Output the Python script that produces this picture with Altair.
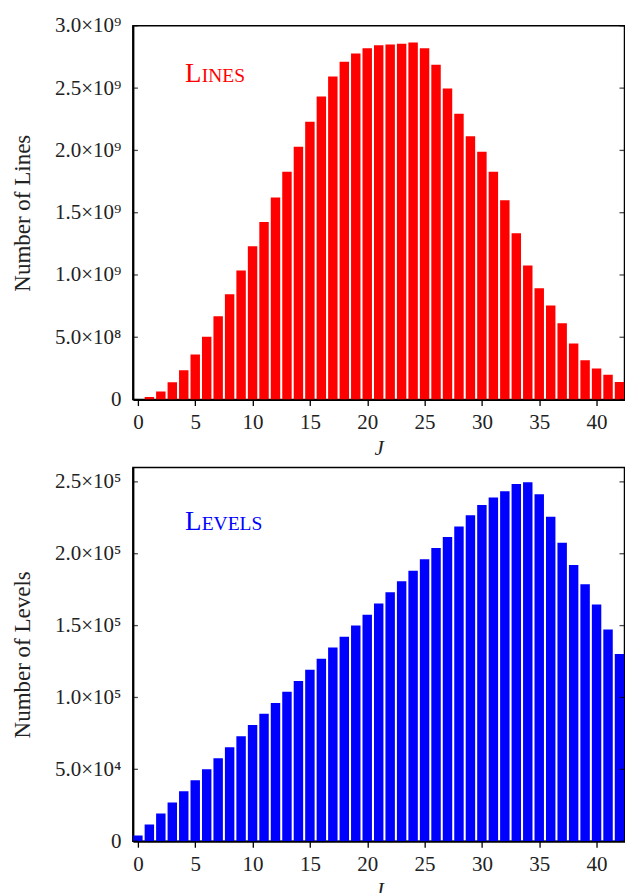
import altair as alt
import pandas as pd

J = list(range(43))
lines = [0, 2.0e7, 6.4e7, 1.39e8, 2.35e8, 3.61e8, 5.05e8, 6.68e8, 8.45e8, 1.035e9,
         1.23e9, 1.425e9, 1.622e9, 1.829e9, 2.029e9, 2.23e9, 2.433e9, 2.593e9, 2.711e9, 2.778e9,
         2.82e9, 2.845e9, 2.85e9, 2.856e9, 2.866e9, 2.82e9, 2.687e9, 2.497e9, 2.294e9, 2.114e9,
         1.989e9, 1.829e9, 1.599e9, 1.334e9, 1.077e9, 8.93e8, 7.54e8, 6.12e8, 4.49e8, 3.15e8,
         2.49e8, 2.0e8, 1.41e8]
levels = [3960, 11600, 19300, 26900, 34800, 42400, 50000, 57700, 65400, 73000,
          80900, 88600, 96200, 103900, 111500, 119200, 127000, 134700, 142300, 150000,
          157600, 165300, 173200, 180800, 188200, 196100, 204000, 211700, 219000, 226700,
          233900, 239200, 243400, 248500, 249700, 241300, 225800, 207700, 192200, 178700,
          164600, 147200, 130300]

x_ticks = [0, 5, 10, 15, 20, 25, 30, 35, 40]
top_ticks = [0, 5e8, 1e9, 1.5e9, 2e9, 2.5e9, 3e9]
top_labels = ["0", "5.0×10⁸", "1.0×10⁹", "1.5×10⁹", "2.0×10⁹", "2.5×10⁹", "3.0×10⁹"]
bot_ticks = [0, 5e4, 1e5, 1.5e5, 2e5, 2.5e5]
bot_labels = ["0", "5.0×10⁴", "1.0×10⁵", "1.5×10⁵", "2.0×10⁵", "2.5×10⁵"]

FONT = "Liberation Serif"
W, H = 492, 374


def label_expr(ticks, labels):
    expr = "''"
    for v, s in zip(reversed(ticks), reversed(labels)):
        expr = f"abs(datum.value - {float(v)}) < 1 ? '{s}' : {expr}"
    return expr


def panel(values, color, ylabel, ydomain, ticks, labels, first, rest, ann_x, ann_y):
    df = pd.DataFrame({"J": J, "N": values})
    X = alt.X("J:Q", scale=alt.Scale(domain=[0, 42], nice=False, zero=False),
              axis=alt.Axis(values=x_ticks, title="J", titleFontStyle="italic", titleFontSize=21,
                            titleBaseline="alphabetic", titleX=W / 2, titleY=55.5,
                            tickSize=6, labelPadding=23, labelBaseline="alphabetic",
                            labelFlush=False, format="d"))
    Y = alt.Y("N:Q", scale=alt.Scale(domain=ydomain, nice=False),
              axis=alt.Axis(values=ticks, labelExpr=label_expr(ticks, labels),
                            title=ylabel, ticks=False, labelPadding=12,
                            titleBaseline="alphabetic", titleX=-103, titleY=H / 2,
                            titleAngle=270, titleAlign="center"))
    bars = alt.Chart(df).mark_bar(size=9.45, color=color, clip=True).encode(x=X, y=Y)
    tdf = pd.DataFrame({"N": ticks})
    lt = alt.Chart(tdf).mark_tick(orient="horizontal", size=5, thickness=1.3, color="black").encode(
        y=Y, x=alt.value(2.5))
    rt = alt.Chart(tdf).mark_tick(orient="horizontal", size=5, thickness=1.3, color="black").encode(
        y=Y, x=alt.value(W - 2.5))
    a1 = alt.Chart(pd.DataFrame({"J": [ann_x], "N": [ann_y], "t": [first]})).mark_text(
        align="left", baseline="alphabetic", font=FONT, fontSize=27, color=color).encode(
        x=X, y=Y, text="t:N")
    a2 = alt.Chart(pd.DataFrame({"J": [ann_x], "N": [ann_y], "t": [rest]})).mark_text(
        align="left", baseline="alphabetic", font=FONT, fontSize=19.5, color=color, dx=16.8).encode(
        x=X, y=Y, text="t:N")
    return alt.layer(bars, lt, rt, a1, a2).properties(width=W, height=H)


top = panel(lines, "#ff0000", "Number of Lines", [0, 3e9], top_ticks, top_labels,
            "L", "INES", 4.1, 2.553e9)
bottom = panel(levels, "#0000ff", "Number of Levels", [0, 2.6e5], bot_ticks, bot_labels,
               "L", "EVELS", 4.1, 2.163e5)

chart = alt.vconcat(top, bottom, spacing=6).properties(
    padding={"left": 3, "top": 5.5, "right": -0.5, "bottom": 0}
).configure_view(
    stroke="black", strokeWidth=1.5
).configure_axis(
    grid=False, domainColor="black", domainWidth=2, tickColor="black", tickWidth=1.3,
    labelFont=FONT, labelFontSize=21, labelColor="#222",
    titleFont=FONT, titleFontSize=23, titleColor="#222", titleFontWeight="normal",
)

chart.save("out.html", embed_options={"renderer": "svg", "actions": False})
